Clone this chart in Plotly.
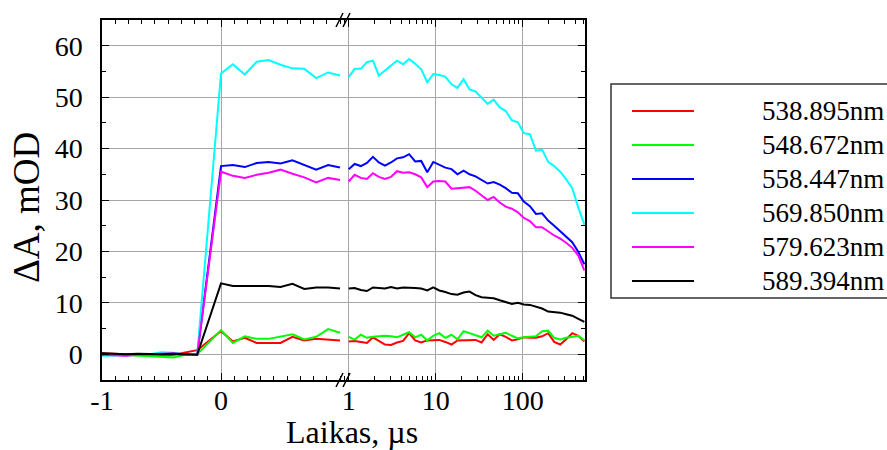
import plotly.graph_objects as go

FONT = "Liberation Serif, Times New Roman, serif"

names = ["538.895nm", "548.672nm", "558.447nm", "569.850nm", "579.623nm", "589.394nm"]
colors = ["#ff0000", "#00ff00", "#0000ff", "#00ffff", "#ff00ff", "#000000"]

# left (linear) segment, time in microseconds
t_left = [-1.0, -0.9, -0.8, -0.7, -0.6, -0.5, -0.4, -0.3, -0.2,
          0.0, 0.1, 0.2, 0.3, 0.4, 0.5, 0.6, 0.7, 0.8, 0.9, 1.0]

red_left = [0.2, 0.1, 0.0, 0.0, -0.1, -0.3, -0.1, 0.3, 0.8,
            4.5, 2.5, 3.2, 2.2, 2.2, 2.2, 3.4, 2.7, 3.0, 2.9, 2.7]
green_left = [0.1, 0.0, -0.1, -0.2, -0.3, -0.5, -0.6, -0.1, 0.0,
              4.7, 2.2, 3.5, 3.0, 3.0, 3.5, 3.9, 2.9, 3.4, 4.9, 4.2]
blue_left = [0.0, -0.1, -0.2, -0.1, 0.0, 0.1, 0.0, -0.1, -0.1,
             36.6, 36.8, 36.4, 37.2, 37.4, 37.1, 37.7, 36.8, 35.9, 36.8, 36.3]
cyan_left = [-0.3, -0.3, -0.2, -0.1, 0.0, 0.4, 0.3, 0.0, -0.1,
             54.6, 56.4, 54.4, 56.9, 57.2, 56.3, 55.6, 55.5, 53.7, 54.8, 54.2]
magenta_left = [-0.1, -0.2, -0.3, -0.1, 0.0, 0.2, 0.2, 0.0, -0.1,
                35.5, 34.7, 34.3, 34.9, 35.3, 35.9, 35.1, 34.4, 33.4, 34.3, 33.9]
black_left = [0.2, 0.1, 0.0, 0.1, 0.0, 0.0, 0.1, 0.0, -0.1,
              13.8, 13.3, 13.3, 13.3, 13.3, 13.1, 13.7, 12.7, 13.0, 13.0, 12.8]

# right (log) segment, time in microseconds
t_right = [1.0, 1.17, 1.38, 1.62, 1.9, 2.22, 2.61, 3.06, 3.59, 4.22,
           4.95, 5.81, 6.81, 8.0, 9.38, 11.0, 12.9, 15.2, 17.8, 20.9,
           24.5, 28.7, 33.7, 39.6, 46.4, 54.5, 63.9, 75.0, 88.0, 103.0,
           121.0, 142.0, 167.0, 196.0, 230.0, 270.0, 316.0, 371.0, 436.0, 511.0]

red_right = [2.5, 2.6, 2.4, 2.2, 3.3, 2.6, 1.9, 1.8, 2.3, 2.6,
             4.1, 2.7, 2.3, 2.7, 2.8, 2.8, 2.4, 1.9, 2.7, 2.7,
             2.7, 2.8, 2.3, 3.9, 2.8, 3.9, 3.4, 2.7, 2.9, 3.3,
             3.2, 3.2, 3.5, 4.1, 2.4, 1.9, 2.9, 4.1, 3.6, 2.5]
green_right = [3.4, 2.85, 3.8, 3.2, 3.4, 3.5, 3.6, 3.5, 3.3, 3.8,
               4.3, 3.3, 3.8, 2.7, 3.6, 4.1, 3.2, 3.8, 2.9, 4.5,
               4.1, 3.7, 3.3, 4.6, 3.6, 3.9, 4.2, 3.6, 3.1, 3.3,
               3.4, 3.5, 4.5, 4.6, 3.2, 2.9, 3.2, 3.4, 3.6, 2.7]
blue_right = [36.0, 37.0, 36.6, 37.2, 38.4, 37.3, 36.7, 37.3, 38.1, 38.3,
              38.9, 37.5, 37.6, 35.4, 37.4, 36.9, 36.3, 36.0, 35.0, 35.7,
              35.0, 34.6, 33.9, 33.2, 33.5, 33.0, 32.3, 31.4, 31.3, 29.7,
              28.8, 27.3, 27.4, 26.0, 25.0, 23.9, 23.0, 21.8, 19.9, 17.5]
cyan_right = [53.9, 55.5, 55.5, 56.8, 57.1, 54.2, 55.2, 56.2, 57.1, 56.4,
              57.4, 56.5, 55.4, 52.9, 54.5, 54.3, 54.0, 52.5, 51.8, 53.5,
              51.5, 51.1, 49.8, 48.7, 49.5, 48.0, 47.3, 45.5, 45.1, 43.0,
              42.8, 39.6, 39.8, 37.4, 36.6, 35.5, 34.0, 32.3, 28.5, 25.2]
magenta_right = [33.6, 34.9, 34.3, 34.1, 35.2, 34.5, 34.1, 34.5, 35.6, 35.3,
                 35.4, 35.0, 34.4, 32.5, 33.6, 33.7, 33.6, 32.2, 32.3, 32.4,
                 32.5, 31.8, 30.9, 30.0, 30.6, 29.5, 28.7, 28.3, 27.6, 26.5,
                 25.9, 24.7, 24.7, 23.9, 23.1, 22.5, 21.7, 20.7, 19.2, 16.3]
black_right = [12.8, 12.9, 12.5, 12.3, 13.0, 12.9, 12.8, 13.1, 12.8, 13.0,
               13.0, 12.9, 12.8, 12.4, 13.0, 12.4, 12.1, 11.7, 11.6, 12.0,
               12.2, 11.5, 11.1, 11.0, 10.9, 10.5, 10.2, 9.8, 10.0, 9.7,
               9.6, 9.3, 8.9, 8.3, 8.2, 8.1, 7.8, 7.5, 6.9, 6.3]

y_ticks = [0, 10, 20, 30, 40, 50, 60]
x_left_ticks = [-1, 0]
x_right_ticks = [1, 10, 100]

left_series = [red_left, green_left, blue_left, cyan_left, magenta_left, black_left]
right_series = [red_right, green_right, blue_right, cyan_right, magenta_right, black_right]

fig = go.Figure()
for name, color, yl, yr in zip(names, colors, left_series, right_series):
    fig.add_trace(go.Scatter(x=t_left, y=yl, xaxis="x", yaxis="y", mode="lines",
                             line=dict(color=color, width=2), name=name,
                             legendgroup=name, showlegend=False))
    fig.add_trace(go.Scatter(x=t_right, y=yr, xaxis="x2", yaxis="y2", mode="lines",
                             line=dict(color=color, width=2), name=name,
                             legendgroup=name, showlegend=False))

W, H = 887, 450
ML, MR, MT, MB = 102, 302, 20, 70
PW = W - ML - MR
PH = H - MT - MB
split = (343 - ML) / PW


def px_x(p):
    return (p - ML) / PW


def px_y(p):
    return (MT + PH - p) / PH


axis_common = dict(showline=True, linecolor="black", linewidth=1.5,
                   ticks="inside", ticklen=7, tickwidth=1.2, tickcolor="black",
                   showgrid=True, gridcolor="#a6a6a6", gridwidth=1,
                   zeroline=False,
                   tickfont=dict(family=FONT, size=28, color="black"))

fig.update_layout(
    width=W, height=H,
    margin=dict(l=ML, r=MR, t=MT, b=MB),
    paper_bgcolor="white", plot_bgcolor="white",
    font=dict(family=FONT, color="black"),
    showlegend=False,
    xaxis=dict(domain=[0, split], range=[-1, 1.025], anchor="y",
               tickmode="array", tickvals=x_left_ticks, ticktext=[str(v) for v in x_left_ticks],
               mirror="ticks", ticklabelstandoff=-5,
               minor=dict(ticks="inside", ticklen=4, tick0=0, dtick=1 / 9,
                          tickcolor="black", showgrid=False),
               **axis_common),
    xaxis2=dict(domain=[split, 1], type="log", range=[-0.0655, 2.716], anchor="y2",
                tickmode="array", tickvals=x_right_ticks, ticktext=[str(v) for v in x_right_ticks],
                mirror="ticks", ticklabelstandoff=-5,
                minor=dict(ticks="inside", ticklen=4, dtick="D1",
                           tickcolor="black", showgrid=False),
                **axis_common),
    yaxis=dict(domain=[0, 1], range=[-5, 65], anchor="x",
               tickmode="array", tickvals=y_ticks, ticktext=[str(v) for v in y_ticks],
               ticklabelstandoff=12,
               minor=dict(ticks="inside", ticklen=4, tick0=0, dtick=5,
                          tickcolor="black", showgrid=False),
               **axis_common),
    yaxis2=dict(domain=[0, 1], range=[-5, 65], anchor="x2", matches="y", side="right",
                tickmode="array", tickvals=y_ticks, showticklabels=False,
                minor=dict(ticks="inside", ticklen=4, tick0=0, dtick=5,
                           tickcolor="black", showgrid=False),
                **axis_common),
)

# axis titles
fig.add_annotation(text="Laikas, µs", xref="paper", yref="paper",
                   x=px_x(352), y=px_y(432), xanchor="center", yanchor="middle",
                   showarrow=False, font=dict(family=FONT, size=32, color="black"))
fig.add_annotation(text="ΔA, mOD", xref="paper", yref="paper", textangle=-90,
                   x=px_x(27), y=px_y(208), xanchor="center", yanchor="middle",
                   showarrow=False, font=dict(family=FONT, size=37, color="black"))

# axis break marks
for ya in (0, 1):
    fig.add_shape(type="path", xref="paper", yref="paper",
                  xsizemode="pixel", ysizemode="pixel", xanchor=split, yanchor=ya,
                  path="M-7,-7 L0,7 M0,-7 L7,7",
                  line=dict(color="black", width=1.5))

# legend box (extends past the right edge as in the original)
fig.add_shape(type="rect", xref="paper", yref="paper",
              x0=px_x(611), x1=px_x(905), y0=px_y(298), y1=px_y(84),
              line=dict(color="#333333", width=1.5), fillcolor="white", layer="below")
for i, (name, color) in enumerate(zip(names, colors)):
    yc = 111 + 34 * i
    fig.add_shape(type="line", xref="paper", yref="paper",
                  x0=px_x(632), x1=px_x(694), y0=px_y(yc), y1=px_y(yc),
                  line=dict(color=color, width=2))
    fig.add_annotation(text=name, xref="paper", yref="paper",
                       x=px_x(760), y=px_y(yc), xanchor="left", yanchor="middle",
                       showarrow=False, font=dict(family=FONT, size=27, color="black"))

fig.write_html("out.html")
